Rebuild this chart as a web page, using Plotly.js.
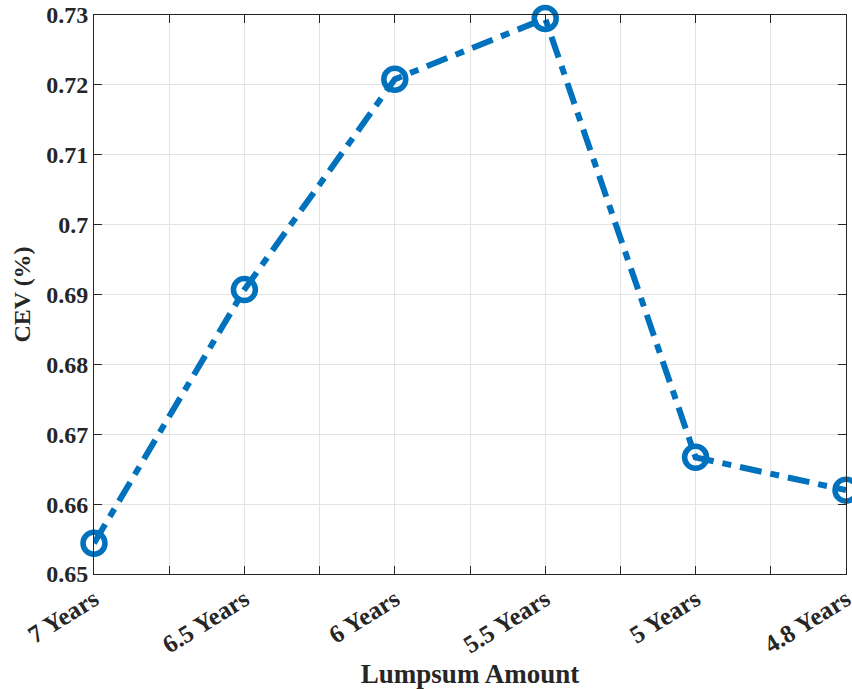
<!DOCTYPE html>
<html>
<head>
<meta charset="utf-8">
<script src="https://cdn.plot.ly/plotly-3.0.1.min.js"></script>
<style>html,body{margin:0;padding:0;background:#fff;}#chart{width:852px;height:689px;}</style>
</head>
<body>
<div id="chart"></div>
<script>
// Data
const categories = ['7 Years', '6.5 Years', '6 Years', '5.5 Years', '5 Years', '4.8 Years'];
const cevValues = [0.6544, 0.6907, 0.7208, 0.7295, 0.6667, 0.6620];
const yTickValues = [0.65, 0.66, 0.67, 0.68, 0.69, 0.70, 0.71, 0.72, 0.73];
const yTickLabels = ['0.65', '0.66', '0.67', '0.68', '0.69', '0.7', '0.71', '0.72', '0.73'];

// x positions 1..N, ticks every half step, labels only at integer positions
const xPos = categories.map((c, i) => i + 1);
const xTickVals = [];
const xTickText = [];
for (let i = 0; i < categories.length; i++) {
  xTickVals.push(i + 1); xTickText.push(categories[i]);
  if (i < categories.length - 1) { xTickVals.push(i + 1.5); xTickText.push(''); }
}

const blue = '#0072BD';
const axisColor = '#262626';
const font = 'Liberation Serif, Times New Roman, serif';

const trace = {
  x: xPos,
  y: cevValues,
  type: 'scatter',
  mode: 'lines+markers',
  cliponaxis: false,
  line: { color: blue, width: 6, dash: '22px,9px,9px,9px' },
  marker: { symbol: 'circle-open', size: 22, color: blue, line: { color: blue, width: 5.5 } },
  hoverinfo: 'x+y'
};

const axisCommon = {
  showline: true, linecolor: axisColor, linewidth: 1, mirror: 'ticks',
  ticks: 'inside', ticklen: 8, tickwidth: 1, tickcolor: axisColor,
  showgrid: true, gridcolor: '#e3e3e3', gridwidth: 1, zeroline: false,
  ticklabeloverflow: 'allow',
  tickfont: { family: font, size: 24, color: axisColor, weight: 'bold' }
};

const layout = {
  width: 852, height: 689,
  margin: { l: 94, r: 6, t: 15, b: 115 },
  paper_bgcolor: '#fff', plot_bgcolor: '#fff',
  showlegend: false,
  font: { family: font, color: axisColor },
  xaxis: Object.assign({}, axisCommon, {
    range: [1, categories.length],
    tickmode: 'array', tickvals: xTickVals, ticktext: xTickText,
    tickangle: -32,
    tickfont: { family: font, size: 25, color: axisColor, weight: 'bold' },
    title: { text: '<b>Lumpsum Amount</b>', font: { family: font, size: 27, color: axisColor }, standoff: 8 }
  }),
  yaxis: Object.assign({}, axisCommon, {
    range: [0.65, 0.73],
    tickmode: 'array', tickvals: yTickValues, ticktext: yTickLabels,
    title: { text: '<b>CEV (%)</b>', font: { family: font, size: 24, color: axisColor }, standoff: 8 }
  })
};

Plotly.newPlot('chart', [trace], layout, { displayModeBar: false, staticPlot: true });
</script>
</body>
</html>
